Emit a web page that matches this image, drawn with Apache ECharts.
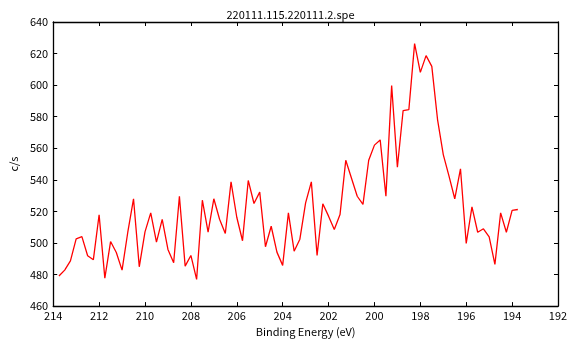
<!DOCTYPE html>
<html>
<head>
<meta charset="utf-8">
<script src="https://cdn.jsdelivr.net/npm/echarts@6/dist/echarts.min.js"></script>
<style>
  html, body { margin: 0; padding: 0; background: #fff; }
  #chart { width: 581px; height: 342px; }
</style>
</head>
<body>
<div id="chart"></div>
<script>
// XPS spectrum: counts per second versus binding energy
const title = '220111.115.220111.2.spe';
const xName = 'Binding Energy (eV)';
const yName = 'c/s';

// Binding energies (eV), one per acquired channel
const energies = [
  213.75, 213.5, 213.25, 213.0, 212.75, 212.5, 212.25, 212.0, 211.75, 211.5,
  211.25, 211.0, 210.75, 210.5, 210.25, 210.0, 209.75, 209.5, 209.25, 209.0,
  208.75, 208.5, 208.25, 208.0, 207.75, 207.5, 207.25, 207.0, 206.75, 206.5,
  206.25, 206.0, 205.75, 205.5, 205.25, 205.0, 204.75, 204.5, 204.25, 204.0,
  203.75, 203.5, 203.25, 203.0, 202.75, 202.5, 202.25, 202.0, 201.75, 201.5,
  201.25, 201.0, 200.75, 200.5, 200.25, 200.0, 199.75, 199.5, 199.25, 199.0,
  198.75, 198.5, 198.25, 198.0, 197.75, 197.5, 197.25, 197.0, 196.75, 196.5,
  196.25, 196.0, 195.75, 195.5, 195.25, 195.0, 194.75, 194.5, 194.25, 194.0,
  193.75
];

// Intensity (c/s) for each energy above
const counts = [
  479.1, 482.8, 488.7, 502.6, 504.0, 491.9, 489.4, 517.9, 477.7, 500.9,
  494.0, 482.8, 506.8, 528.0, 484.9, 507.0, 519.1, 500.5, 514.9, 495.9,
  487.5, 529.6, 485.3, 492.1, 476.9, 527.1, 506.8, 528.0, 515.0, 506.0,
  538.7, 516.3, 501.4, 539.6, 525.0, 532.2, 497.6, 510.6, 494.2, 485.8,
  519.1, 494.8, 502.4, 525.4, 538.7, 492.1, 524.8, 517.0, 508.5, 518.0,
  552.4, 541.0, 529.6, 524.4, 552.4, 562.0, 565.3, 529.6, 599.7, 548.0,
  583.9, 584.5, 626.3, 608.1, 618.7, 611.9, 578.2, 556.0, 542.3, 528.0,
  547.0, 499.7, 522.9, 506.8, 509.0, 503.9, 486.4, 519.1, 506.8, 520.6,
  521.2
];

// Axis ranges and tick steps
const xRange = [192, 214];
const xStep = 2;
const yRange = [460, 640];
const yStep = 20;

const FONT = '"Noto Sans CJK JP", "Noto Sans", sans-serif';

const chart = echarts.init(document.getElementById('chart'), null, { renderer: 'canvas' });

const axisLine = { show: true, lineStyle: { color: '#000', width: 1.3 } };
const innerTicks = { show: true, inside: true, length: 4, lineStyle: { color: '#000', width: 1 } };

chart.setOption({
  animation: false,
  backgroundColor: '#fff',
  title: {
    text: title,
    left: 'center',
    top: 4,
    textStyle: { fontFamily: FONT, fontSize: 11, fontWeight: 'normal', color: '#000' }
  },
  grid: { left: 53, right: 23, top: 22, bottom: 35, containLabel: false },
  xAxis: [
    {
      type: 'value',
      position: 'bottom',
      inverse: true,
      min: xRange[0], max: xRange[1], interval: xStep,
      name: xName,
      nameLocation: 'middle',
      nameGap: 18,
      nameTextStyle: { fontFamily: FONT, fontSize: 11, color: '#000' },
      axisLine: axisLine,
      axisTick: innerTicks,
      axisLabel: { fontFamily: FONT, fontSize: 11, color: '#000', margin: 4 },
      splitLine: { show: false }
    },
    {
      type: 'value',
      position: 'top',
      inverse: true,
      min: xRange[0], max: xRange[1], interval: xStep,
      axisLine: axisLine,
      axisTick: innerTicks,
      axisLabel: { show: false },
      splitLine: { show: false }
    }
  ],
  yAxis: [
    {
      type: 'value',
      position: 'left',
      min: yRange[0], max: yRange[1], interval: yStep,
      name: yName,
      nameLocation: 'middle',
      nameGap: 28,
      nameRotate: 90,
      nameTextStyle: { fontFamily: FONT, fontSize: 11, color: '#000' },
      axisLine: axisLine,
      axisTick: innerTicks,
      axisLabel: { fontFamily: FONT, fontSize: 11, color: '#000', margin: 5 },
      splitLine: { show: false }
    },
    {
      type: 'value',
      position: 'right',
      min: yRange[0], max: yRange[1], interval: yStep,
      axisLine: axisLine,
      axisTick: innerTicks,
      axisLabel: { show: false },
      splitLine: { show: false }
    }
  ],
  series: [
    {
      type: 'line',
      xAxisIndex: 0,
      yAxisIndex: 0,
      data: energies.map((e, i) => [e, counts[i]]),
      showSymbol: false,
      symbol: 'none',
      lineStyle: { color: '#ff0000', width: 1.3 },
      silent: true
    }
  ]
});
</script>
</body>
</html>
